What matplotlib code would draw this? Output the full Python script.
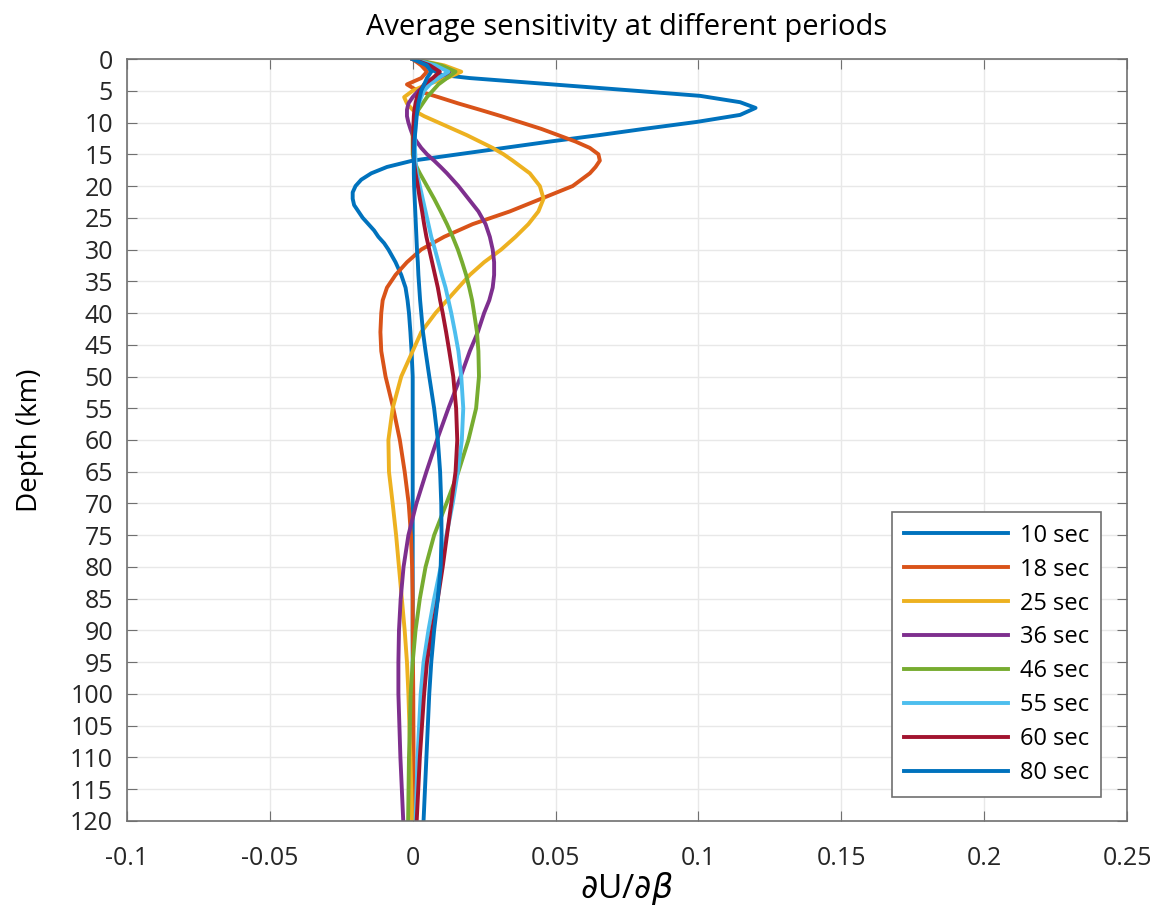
import numpy as np
import matplotlib
matplotlib.use('Agg')
import matplotlib.pyplot as plt

plt.rcParams['font.family'] = ['Open Sans', 'DejaVu Sans']
plt.rcParams['mathtext.fontset'] = 'dejavusans'

# depth grid (km) shared by most periods
depth = [0, 1, 2, 3, 4, 5, 6, 7, 8, 9, 10, 11, 12, 13, 14, 15, 16, 17, 18,
         20, 22, 24, 26, 28, 30, 32, 34, 36, 38, 40, 43, 46, 50, 55, 60,
         65, 70, 75, 80, 85, 90, 95, 100, 110, 120]

# 10 sec is sampled more finely around its peak and trough
d10 = [0, 1, 2, 2.5, 3, 4, 5, 5.8, 6.8, 7.7, 8.8, 9.9, 11, 12, 13, 14, 15, 16,
       17, 18, 19, 20, 21, 22, 23, 24, 25, 26, 27, 28, 29, 30, 32, 34, 36,
       38, 40, 43, 46, 50, 60, 80, 100, 120]
s10 = [0, 0.004, 0.008, 0.010, 0.020, 0.049, 0.078, 0.1006, 0.1146, 0.120, 0.1146, 0.0995,
       0.081, 0.065, 0.048, 0.032, 0.016, 0.0,
       -0.009, -0.0145, -0.018, -0.020, -0.021, -0.021, -0.0205, -0.019, -0.0175, -0.0155,
       -0.0135, -0.012, -0.010, -0.0085, -0.006, -0.004, -0.0025,
       -0.0018, -0.0013, -0.0008, -0.0004, 0, 0, 0, 0, 0]

# sensitivity values dU/dbeta on the shared grid
s18 = [0, 0.003, 0.005, 0.003, -0.002, 0.0017, 0.009, 0.016, 0.0236, 0.031, 0.038,
       0.045, 0.051, 0.057, 0.062, 0.065, 0.0655, 0.064, 0.062,
       0.056, 0.045, 0.034, 0.021, 0.011, 0.003, -0.002, -0.006, -0.009, -0.0105, -0.011, -0.0113, -0.011, -0.0095, -0.0068, -0.0045,
       -0.0028, -0.0014, -0.0006, -0.0002, 0.0, 0.0, 0.0001, 0.0002, 0.0003, 0.0003]
s25 = [0, 0.011, 0.017, 0.012, 0.005, 0.0, -0.003, -0.002, 0.0, 0.004, 0.009,
       0.014, 0.019, 0.0235, 0.028, 0.0318, 0.035, 0.038, 0.041,
       0.0445, 0.0458, 0.044, 0.0405, 0.036, 0.031, 0.025, 0.020, 0.016, 0.012, 0.008, 0.003, 0.0, -0.004, -0.007, -0.0085,
       -0.0083, -0.007, -0.0058, -0.0048, -0.0038, -0.0028, -0.002, -0.0015, -0.0008, -0.0002]
s36 = [0, 0.009, 0.013, 0.009, 0.005, 0.002, 0.0, -0.0015, -0.002, -0.002, -0.0015,
       -0.0008, 0.0, 0.0014, 0.003, 0.005, 0.0075, 0.0098, 0.012,
       0.016, 0.0195, 0.023, 0.0255, 0.027, 0.028, 0.0285, 0.0285, 0.028, 0.0268, 0.025, 0.0228, 0.020, 0.0168, 0.0125, 0.0085,
       0.0048, 0.0013, -0.0015, -0.0032, -0.0042, -0.0048, -0.005, -0.005, -0.0043, -0.0033]
s46 = [0, 0.010, 0.015, 0.012, 0.009, 0.007, 0.005, 0.0035, 0.002, 0.001, 0.0005,
       0.0002, 0.0, 0.0, 0.0, 0.0, 0.0005, 0.0014, 0.0025,
       0.005, 0.0075, 0.0098, 0.012, 0.014, 0.0158, 0.0173, 0.0187, 0.0198, 0.0208, 0.0215, 0.0225, 0.023, 0.0232, 0.0222, 0.0195,
       0.016, 0.0118, 0.0075, 0.0045, 0.0025, 0.001, 0.0, -0.0007, -0.0013, -0.0016]
s55 = [0, 0.008, 0.0125, 0.009, 0.006, 0.004, 0.003, 0.0022, 0.0016, 0.0012, 0.001,
       0.0009, 0.0008, 0.0008, 0.0008, 0.0009, 0.001, 0.0012, 0.0015,
       0.0025, 0.0035, 0.0045, 0.0055, 0.0065, 0.0078, 0.009, 0.0102, 0.0115, 0.0125, 0.0135, 0.0148, 0.016, 0.017, 0.0177, 0.0172,
       0.0158, 0.014, 0.0118, 0.0098, 0.0075, 0.0055, 0.0038, 0.0028, 0.0017, 0.001]
s60 = [0, 0.006, 0.0095, 0.007, 0.004, 0.0025, 0.0015, 0.001, 0.0006, 0.0004, 0.0003,
       0.0002, 0.0002, 0.0002, 0.0002, 0.0003, 0.0004, 0.0007, 0.001,
       0.0018, 0.0025, 0.0033, 0.004, 0.0048, 0.0058, 0.0068, 0.0078, 0.0088, 0.0096, 0.0105, 0.0117, 0.0128, 0.0142, 0.0152, 0.0156,
       0.015, 0.0135, 0.012, 0.0105, 0.0088, 0.0068, 0.005, 0.004, 0.0025, 0.0014]
s80 = [0, 0.005, 0.0065, 0.005, 0.004, 0.003, 0.0025, 0.002, 0.0017, 0.0014, 0.0012,
       0.001, 0.0008, 0.0006, 0.0005, 0.0004, 0.0004, 0.0004, 0.0004,
       0.0005, 0.0007, 0.0009, 0.0011, 0.0013, 0.0015, 0.0018, 0.002, 0.0023, 0.0026, 0.003, 0.0036, 0.0045, 0.0058, 0.0075, 0.0088,
       0.0096, 0.01, 0.0101, 0.0098, 0.0088, 0.0075, 0.0065, 0.0058, 0.0048, 0.0038]

labels = ['10 sec', '18 sec', '25 sec', '36 sec', '46 sec', '55 sec', '60 sec', '80 sec']
series = [s10, s18, s25, s36, s46, s55, s60, s80]
depths = [d10] + [depth] * 7
colors = ['#0072BD', '#D95319', '#EDB120', '#7E2F8E', '#77AC30', '#4DBEEE', '#A2142F', '#0072BD']

xticks = [-0.1, -0.05, 0, 0.05, 0.1, 0.15, 0.2, 0.25]
xticklabels = ['-0.1', '-0.05', '0', '0.05', '0.1', '0.15', '0.2', '0.25']
yticks = list(range(0, 121, 5))

fig = plt.figure(figsize=(11.5, 9.18), dpi=100)
ax = fig.add_axes([0.1104, 0.1057, 0.8696, 0.83])

for vals, d, lab, c in zip(series, depths, labels, colors):
    ax.plot(vals, d, color=c, lw=2.8, label=lab, solid_joinstyle='round')

ax.set_xlim(-0.1, 0.25)
ax.set_ylim(120, 0)
ax.set_xticks(xticks)
ax.set_xticklabels(xticklabels)
ax.set_yticks(yticks)
ax.grid(True, color='#e8e8e8', lw=1)
ax.set_axisbelow(True)
ax.tick_params(direction='in', top=True, right=True, labelsize=18, length=7,
               color='#707070', labelcolor='#262626')
ax.tick_params(axis='x', pad=18)
ax.tick_params(axis='y', pad=10)
for sp in ax.spines.values():
    sp.set_color('#707070')
    sp.set_linewidth(1.2)

ax.set_title('Average sensitivity at different periods', fontsize=21, pad=17)
ax.set_ylabel('Depth (km)', fontsize=20, labelpad=19)
ax.set_xlabel(r'$\partial$U/$\partial\beta$', fontsize=24, labelpad=-1)

leg = ax.legend(loc='lower right', fontsize=17, frameon=True, fancybox=False,
                edgecolor='#707070', framealpha=1, handlelength=4.4,
                handletextpad=0.5, borderpad=0.5, labelspacing=0.42,
                borderaxespad=0, bbox_to_anchor=(0.974, 0.0315))
leg.get_frame().set_linewidth(1.2)

fig.savefig('out.png', dpi=100)
